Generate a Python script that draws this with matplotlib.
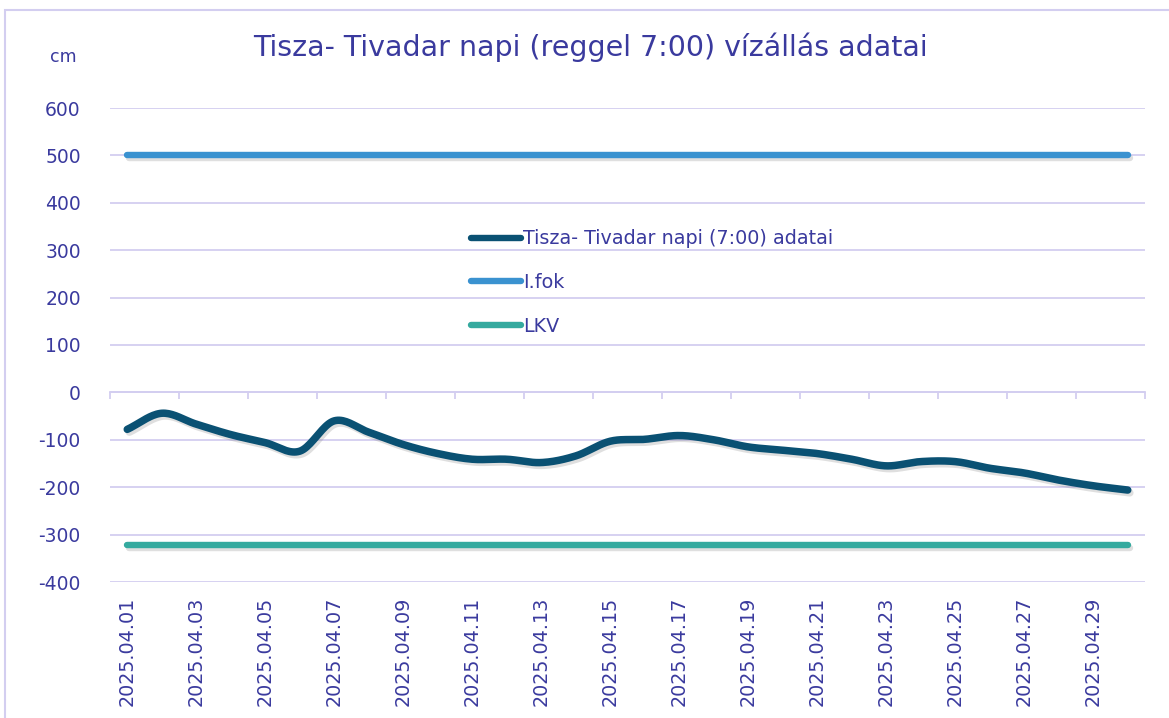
import numpy as np
import matplotlib
matplotlib.use("Agg")
import matplotlib.pyplot as plt
import matplotlib.patheffects as pe
from matplotlib.patches import Rectangle

plt.rcParams['font.family'] = ['DejaVu Sans']
plt.rcParams['axes.unicode_minus'] = False

days = list(range(1, 31))
date_labels = [f"2025.04.{d:02d}" for d in days]
water_level = [-78, -44, -67, -89, -106, -124, -60, -84, -110, -129,
               -141, -141, -148, -134, -103, -99, -91, -100, -115, -122,
               -129, -141, -155, -146, -146, -160, -170, -185, -197, -206]
ifok_level = [500] * 30
lkv_level = [-322] * 30

series_names = ["Tisza- Tivadar napi (7:00) adatai", "I.fok", "LKV"]
title_text = "Tisza- Tivadar napi (reggel 7:00) vízállás adatai"
y_ticks = [-400, -300, -200, -100, 0, 100, 200, 300, 400, 500, 600]

TEXT = '#3A3A9E'
GRID = '#D3CEF0'
C_MAIN = '#0A5173'
C_IFOK = '#3A92D0'
C_LKV = '#35AA9F'

W, H = 1169, 718
fig = plt.figure(figsize=(W / 100, H / 100), dpi=100)
ax = fig.add_axes([110 / W, 1 - 582 / H, (1145 - 110) / W, (582 - 108) / H])

# frame around chart
fig.patches.append(Rectangle((5 / W, -0.1), 1.2, (1 - 10 / H) + 0.1, transform=fig.transFigure,
                             fill=False, edgecolor=GRID, linewidth=1.5))


def smooth(xs, ys, n=20):
    # Catmull-Rom rendering of the series (Excel "smoothed line" look)
    xs = np.asarray(xs, float)
    ys = np.asarray(ys, float)
    px = np.concatenate([[2 * xs[0] - xs[1]], xs, [2 * xs[-1] - xs[-2]]])
    py = np.concatenate([[2 * ys[0] - ys[1]], ys, [2 * ys[-1] - ys[-2]]])
    ox, oy = [], []
    t = np.linspace(0, 1, n, endpoint=False)
    for i in range(1, len(px) - 2):
        for arr, out in ((px, ox), (py, oy)):
            p0, p1, p2, p3 = arr[i - 1], arr[i], arr[i + 1], arr[i + 2]
            out.extend(0.5 * ((2 * p1) + (-p0 + p2) * t + (2 * p0 - 5 * p1 + 4 * p2 - p3) * t ** 2
                              + (-p0 + 3 * p1 - 3 * p2 + p3) * t ** 3))
    ox.append(xs[-1]); oy.append(ys[-1])
    return np.array(ox), np.array(oy)


shadow = [pe.SimpleLineShadow(offset=(1.5, -2.0), shadow_color='gray', alpha=0.25), pe.Normal()]

sx, sy = smooth(days, water_level)
ax.plot(sx, sy, color=C_MAIN, lw=5.4, solid_capstyle='round', path_effects=shadow, zorder=4)
ax.plot(days, ifok_level, color=C_IFOK, lw=4.6, solid_capstyle='round', path_effects=shadow, zorder=3)
ax.plot(days, lkv_level, color=C_LKV, lw=4.6, solid_capstyle='round', path_effects=shadow, zorder=3)

ax.set_xlim(0.5, 30.5)
ax.set_ylim(-400, 600)
ax.set_yticks(y_ticks)
ax.yaxis.grid(True, color=GRID, lw=1.3)
ax.set_axisbelow(True)
for s in ['left', 'right', 'top']:
    ax.spines[s].set_visible(False)
ax.spines['bottom'].set_position(('data', 0))
ax.spines['bottom'].set_color(GRID)
ax.spines['bottom'].set_linewidth(1.3)
ax.tick_params(axis='y', length=0, pad=21, labelsize=13.5, labelcolor=TEXT)

# tick marks between categories, labels on every second category at the bottom
ax.set_xticks(np.arange(0.5, 31, 2))
ax.set_xticklabels([])
ax.tick_params(axis='x', which='major', length=5, width=1.3, color=GRID, direction='out')
ax.set_xticks(days[::2], minor=True)
ax.set_xticklabels(date_labels[::2], minor=True, rotation=90)
ax.tick_params(axis='x', which='minor', length=0, pad=147, labelsize=13.8, labelcolor=TEXT)

fig.text(50 / W, 1 - 57 / H, "cm", color=TEXT, fontsize=12.5, ha='left', va='center')
fig.text(590 / W, 1 - 47 / H, title_text, color=TEXT, fontsize=20.5, ha='center', va='center')

leg = ax.legend(series_names, loc='upper left', bbox_to_anchor=((454 - 110) / (1145 - 110), (582 - 212) / (582 - 108)),
                frameon=False, handlelength=2.6, handletextpad=0.1, labelspacing=1.3,
                fontsize=13.8, labelcolor=TEXT)
for h in leg.get_lines():
    h.set_path_effects([])
    h.set_linewidth(4.6)

fig.savefig("out.png", dpi=100)
